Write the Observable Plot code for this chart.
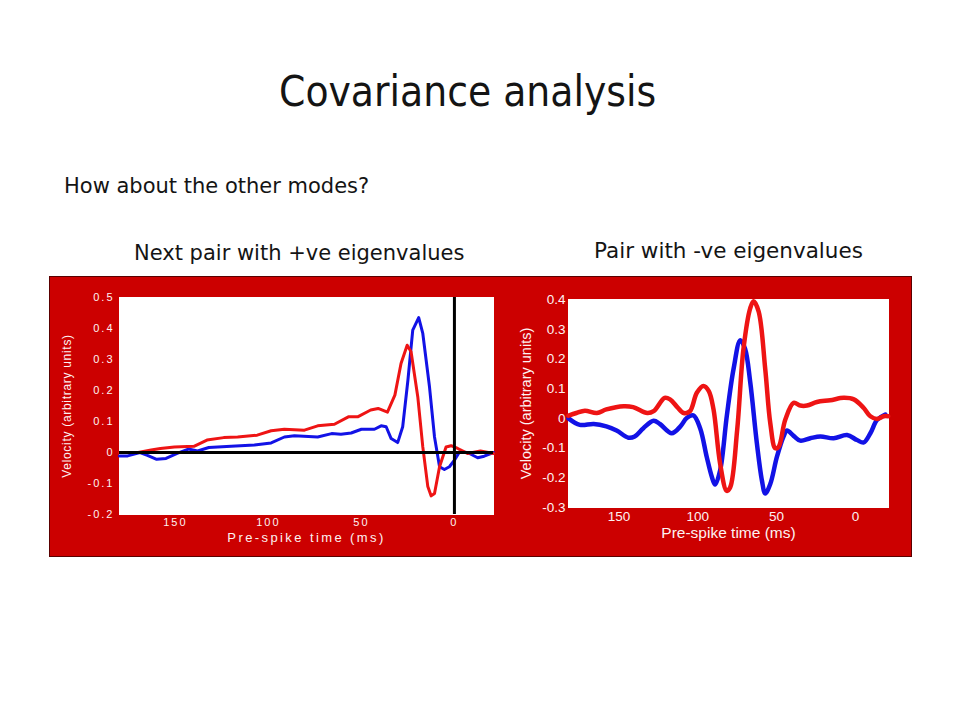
<!DOCTYPE html>
<html><head><meta charset="utf-8">
<script src="https://cdn.jsdelivr.net/npm/d3@7"></script>
<script src="https://cdn.jsdelivr.net/npm/@observablehq/plot@0.6"></script>
<style>
html,body{margin:0;padding:0;background:#fff;}
body{width:960px;height:720px;position:relative;overflow:hidden;font-family:"DejaVu Sans",sans-serif;color:#141414;}
.t{position:absolute;white-space:nowrap;line-height:1;}
#panel{position:absolute;left:49px;top:276px;width:863px;height:281px;background:#cc0000;box-sizing:border-box;border:1px solid #5a0000;}
.chart{position:absolute;}
.chart svg{overflow:visible;}
</style></head><body>
<div class="t" style="left:279px;top:71px;font-size:42px;font-stretch:semi-condensed;">Covariance analysis</div>
<div class="t" style="left:64px;top:176px;font-size:21px;">How about the other modes?</div>
<div class="t" style="left:134px;top:243px;font-size:21px;">Next pair with +ve eigenvalues</div>
<div class="t" style="left:594px;top:240px;font-size:21.5px;">Pair with -ve eigenvalues</div>
<div id="panel"></div>
<div class="chart" id="left" style="left:50px;top:277px;"></div>
<div class="chart" id="right" style="left:510px;top:277px;"></div>
<script>
// ---- data: "Next pair with +ve eigenvalues" (left panel)
const posRedT = [180,170,163,158,150.5,140,133,124,116.5,106,98.5,91.4,80.6,73.5,64.5,57,52,45,41,36,32,28.7,25.4,23.3,19.7,17,14.3,12.5,10.7,8,4.5,1.8,-1.8,-7,-14,-21];
const posRedV = [0,0,0.008,0.013,0.018,0.02,0.04,0.048,0.05,0.056,0.07,0.075,0.072,0.086,0.091,0.115,0.115,0.137,0.142,0.13,0.185,0.287,0.346,0.325,0.18,0.018,-0.11,-0.14,-0.132,-0.046,0.018,0.022,0.013,-0.003,0.005,-0.003];
const posBlueT = [180,175.6,169,165,160,155,149,143,138,132,120,107.5,98.5,91.4,86,73.5,66,61,55.5,50,43,39.4,36.7,34,30.5,27.8,25,22.4,19.2,17,13.4,10.7,8,5.4,2.7,0,-2.7,-7,-12.5,-16,-21];
const posBlueV = [-0.011,-0.011,0,-0.009,-0.022,-0.019,-0.003,0.011,0.005,0.016,0.02,0.024,0.031,0.05,0.054,0.05,0.061,0.059,0.063,0.075,0.075,0.086,0.083,0.045,0.032,0.083,0.233,0.395,0.435,0.384,0.212,0.05,-0.046,-0.055,-0.046,-0.025,0.002,0,-0.017,-0.012,0];
const posXDomain = [180, -21];
const posYDomain = [-0.2, 0.5];
const posYTicks = [-0.2,-0.1,0,0.1,0.2,0.3,0.4,0.5];

// ---- data: "Pair with -ve eigenvalues" (right panel)
const negRedT = [182,177,171.6,164,158,147,141,132,128,121,117.6,113,109,105,100.6,96.4,93,90,85.8,81.6,79.4,75,71,66.7,64.6,61.4,57.2,54,50.8,48.7,44.5,39.2,35,30.7,24.4,16,7.4,1,-5.3,-9.5,-13.8,-18,-20.8];
const negRedV = [0.009,0.018,0.026,0.018,0.03,0.041,0.038,0.018,0.024,0.069,0.064,0.038,0.018,0.024,0.086,0.109,0.092,0.03,-0.153,-0.244,-0.232,-0.039,0.234,0.371,0.394,0.36,0.166,-0.016,-0.101,-0.096,-0.005,0.052,0.043,0.043,0.055,0.061,0.069,0.064,0.035,0.007,-0.002,0.007,0.007];
const negBlueT = [182,174.8,166,158,151.5,144,140,134.5,128,124,116.5,111,107,102.8,98.5,94.3,91,89,85.8,81.6,77.3,73,70,66.7,62.5,59.3,57.2,54,49.8,45.6,43.4,39.2,35,28.6,22.2,13.8,5.3,-1,-5.3,-9.5,-13.8,-19];
const negBlueV = [0,-0.022,-0.019,-0.027,-0.041,-0.065,-0.061,-0.033,-0.008,-0.019,-0.05,-0.027,0.001,0.01,-0.033,-0.13,-0.198,-0.223,-0.175,0.007,0.166,0.263,0.234,0.121,-0.084,-0.209,-0.253,-0.221,-0.13,-0.061,-0.041,-0.059,-0.075,-0.067,-0.061,-0.067,-0.056,-0.073,-0.081,-0.05,-0.005,0.013];
const negXDomain = [182, -21];
const negYDomain = [-0.3, 0.4];
const negYTicks = [-0.3,-0.2,-0.1,0,0.1,0.2,0.3,0.4];

const xTicks = [150, 100, 50, 0];
const xLabel = "Pre-spike time (ms)";
const yLabel = "Velocity (arbitrary units)";

const RED = "#ee1414", BLUE = "#1212e6", TEXT = "#fdf2f2";
const fmt = d => d === 0 ? "0" : d.toFixed(1);
const rows = (t, v) => t.map((x, i) => ({t: x, v: v[i]}));

function styleLabels(svg, which, attrs) {
  svg.querySelectorAll(`[aria-label="${which}"]`).forEach(g => {
    for (const [k, val] of Object.entries(attrs)) g.setAttribute(k, val);
  });
}

const left = Plot.plot({
  width: 460, height: 279,
  marginLeft: 69, marginRight: 17, marginTop: 20, marginBottom: 42,
  style: {background: "transparent", color: TEXT, fontFamily: "'Liberation Sans', Arial, sans-serif", fontSize: "11px", letterSpacing: "2px"},
  x: {domain: posXDomain},
  y: {domain: posYDomain},
  marks: [
    Plot.frame({fill: "white", stroke: "white"}),
    Plot.line(rows(posBlueT, posBlueV), {x: "t", y: "v", stroke: BLUE, strokeWidth: 3}),
    Plot.line(rows(posRedT, posRedV), {x: "t", y: "v", stroke: RED, strokeWidth: 3}),
    Plot.ruleY([0], {stroke: "black", strokeWidth: 3}),
    Plot.ruleX([0], {stroke: "black", strokeWidth: 3}),
    Plot.axisX({ticks: xTicks, tickFormat: String, tickSize: 0, tickPadding: 4, fontSize: 11,
      label: xLabel, labelAnchor: "center", labelArrow: "none", labelOffset: 27}),
    Plot.axisY({ticks: posYTicks, tickFormat: fmt, tickSize: 0, tickPadding: 5, fontSize: 11,
      label: yLabel, labelAnchor: "center", labelArrow: "none", labelOffset: 57})
  ]
});
styleLabels(left, "x-axis label", {"font-size": "13px", "letter-spacing": "2.4px"});
styleLabels(left, "y-axis label", {"font-size": "12px", "letter-spacing": "0.7px"});
document.getElementById("left").appendChild(left);

const right = Plot.plot({
  width: 402, height: 279,
  marginLeft: 58, marginRight: 24, marginTop: 22, marginBottom: 49,
  style: {background: "transparent", color: TEXT, fontFamily: "'Liberation Sans', Arial, sans-serif", fontSize: "13.5px"},
  x: {domain: negXDomain},
  y: {domain: negYDomain},
  marks: [
    Plot.frame({fill: "white", stroke: "white"}),
    Plot.line(rows(negBlueT, negBlueV), {x: "t", y: "v", stroke: BLUE, strokeWidth: 4.5, curve: "catmull-rom"}),
    Plot.line(rows(negRedT, negRedV), {x: "t", y: "v", stroke: RED, strokeWidth: 4.5, curve: "catmull-rom"}),
    Plot.axisX({ticks: xTicks, tickFormat: String, tickSize: 0, tickPadding: 4, fontSize: 13.5,
      label: xLabel, labelAnchor: "center", labelArrow: "none", labelOffset: 30}),
    Plot.axisY({ticks: negYTicks, tickFormat: fmt, tickSize: 0, tickPadding: 3, fontSize: 13.5,
      label: yLabel, labelAnchor: "center", labelArrow: "none", labelOffset: 48})
  ]
});
styleLabels(right, "x-axis label", {"font-size": "15.5px"});
styleLabels(right, "y-axis label", {"font-size": "14.5px"});
document.getElementById("right").appendChild(right);
</script>
</body></html>
